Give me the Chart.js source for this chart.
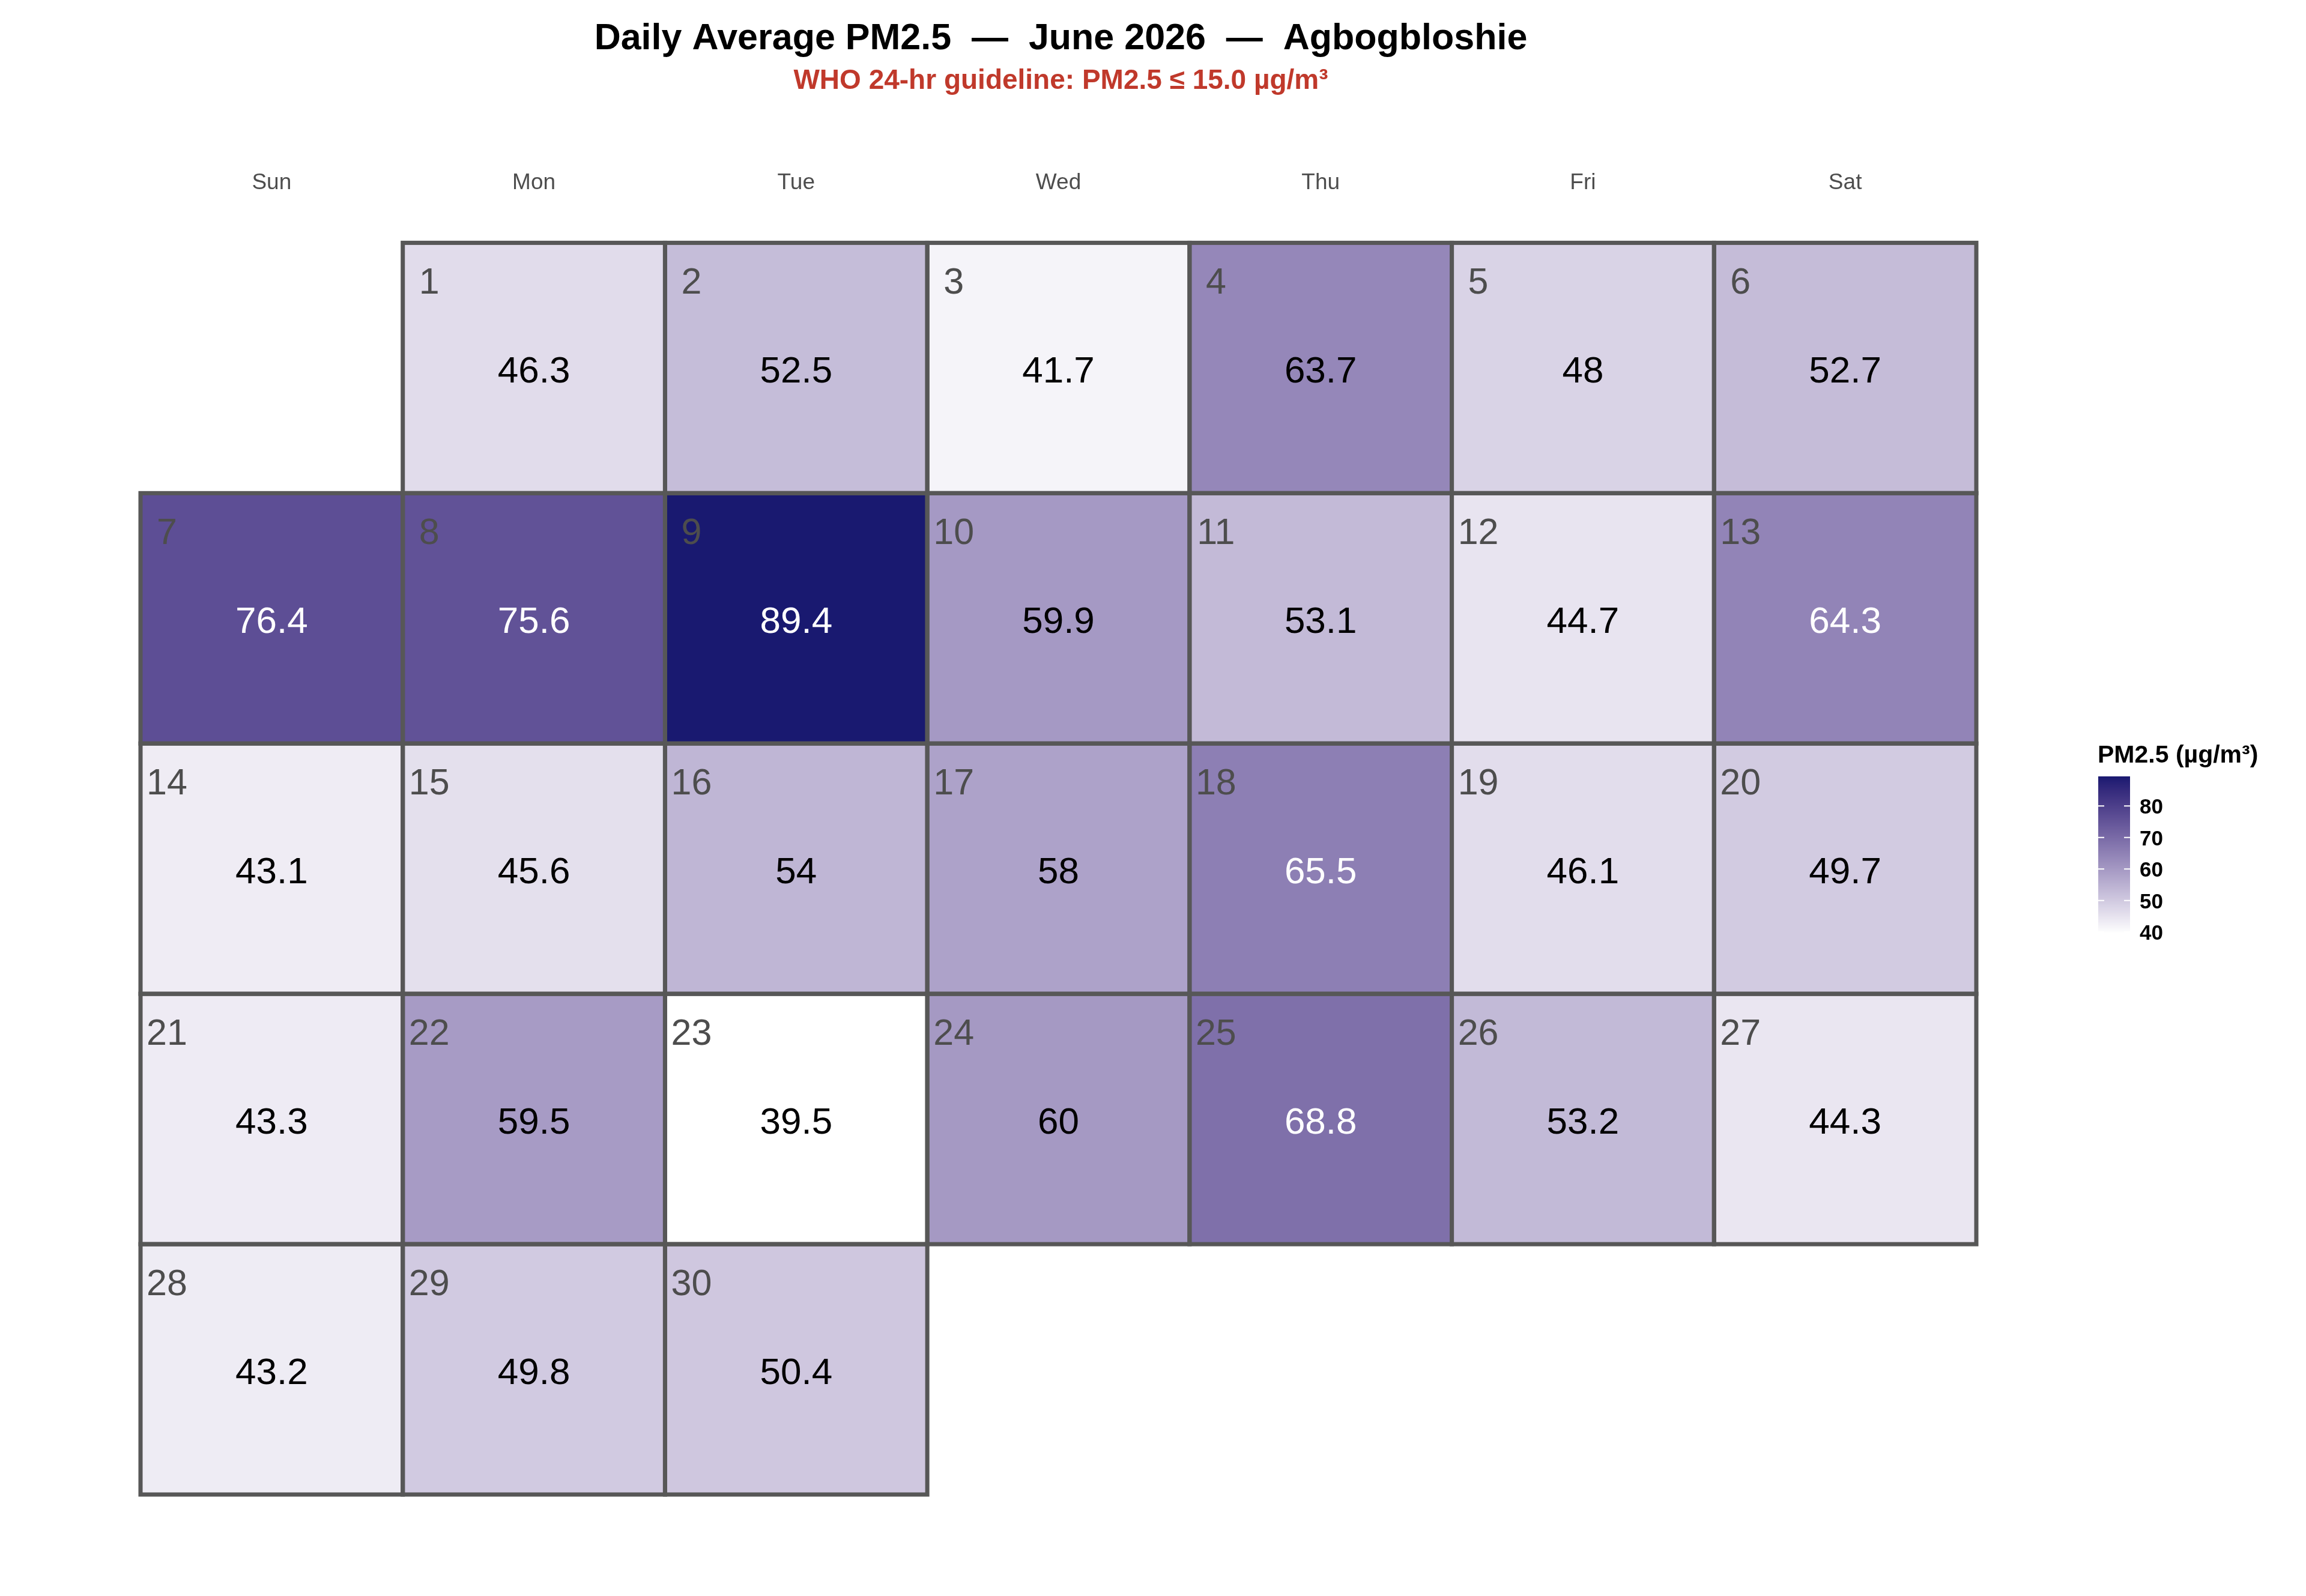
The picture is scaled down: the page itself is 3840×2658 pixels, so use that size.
<!DOCTYPE html>
<html><head><meta charset="utf-8">
<script src="https://cdn.jsdelivr.net/npm/chart.js@4.4.1/dist/chart.umd.min.js"></script>
<style>html,body{margin:0;padding:0;background:#fff;} canvas{display:block;}</style>
</head><body>
<canvas id="c" width="3840" height="2658" style="width:3840px;height:2658px"></canvas>
<script>
// ---------- data ----------
const weekdays = ['Sun', 'Mon', 'Tue', 'Wed', 'Thu', 'Fri', 'Sat'];
const year = 2026;
const monthIndex = 5; // June
const days = [1,2,3,4,5,6,7,8,9,10,11,12,13,14,15,16,17,18,19,20,21,22,23,24,25,26,27,28,29,30];
const pm25 = [46.3,52.5,41.7,63.7,48,52.7,76.4,75.6,89.4,59.9,53.1,44.7,64.3,43.1,45.6,54,58,65.5,46.1,49.7,43.3,59.5,39.5,60,68.8,53.2,44.3,43.2,49.8,50.4];
const legendTicks = [40, 50, 60, 70, 80];
const titleText = 'Daily Average PM2.5  \u2014  June 2026  \u2014  Agbogbloshie';
const subtitleText = 'WHO 24-hr guideline: PM2.5 \u2264 15.0 \u00b5g/m\u00b3';
const legendTitle = 'PM2.5 (\u00b5g/m\u00b3)';
const whiteTextAbove = 64;

// ---------- colour scale (Lab interpolation white -> midnightblue) ----------
const FONT = "'Liberation Sans', Arial, Helvetica, sans-serif";
const lowRGB = [255, 255, 255], highRGB = [25, 25, 112];
function toLin(c){ c/=255; return c<=0.04045 ? c/12.92 : Math.pow((c+0.055)/1.055, 2.4); }
function fromLin(c){ const v = c<=0.0031308 ? 12.92*c : 1.055*Math.pow(c,1/2.4)-0.055; return Math.max(0,Math.min(255,Math.round(v*255))); }
const WN = [0.95047, 1, 1.08883];
function f(t){ return t>0.008856 ? Math.cbrt(t) : 7.787*t + 16/116; }
function finv(t){ return t*t*t>0.008856 ? t*t*t : (t-16/116)/7.787; }
function rgb2lab(rgb){
  const [r,g,b] = rgb.map(toLin);
  const X=(0.4124*r+0.3576*g+0.1805*b)/WN[0], Y=(0.2126*r+0.7152*g+0.0722*b)/WN[1], Z=(0.0193*r+0.1192*g+0.9505*b)/WN[2];
  const fx=f(X), fy=f(Y), fz=f(Z);
  return [116*fy-16, 500*(fx-fy), 200*(fy-fz)];
}
function lab2rgb(lab){
  const fy=(lab[0]+16)/116, fx=fy+lab[1]/500, fz=fy-lab[2]/200;
  const X=finv(fx)*WN[0], Y=finv(fy)*WN[1], Z=finv(fz)*WN[2];
  const r= 3.2406*X-1.5372*Y-0.4986*Z, g=-0.9689*X+1.8758*Y+0.0415*Z, b=0.0557*X-0.2040*Y+1.0570*Z;
  return [fromLin(r), fromLin(g), fromLin(b)];
}
const labLow = rgb2lab(lowRGB), labHigh = rgb2lab(highRGB);
const vMin = Math.min(...pm25), vMax = Math.max(...pm25);
function colorFor(v){
  const t = Math.max(0, Math.min(1, (v - vMin) / (vMax - vMin)));
  const lab = labLow.map((c,i)=> c + (labHigh[i]-c)*t);
  const [r,g,b] = lab2rgb(lab);
  return `rgb(${r},${g},${b})`;
}

// ---------- calendar layout from dates ----------
const firstDow = new Date(year, monthIndex, 1).getDay();
const nWeeks = Math.ceil((firstDow + days.length) / 7);
const datasets = [];
for (let w = 0; w < nWeeks; w++) {
  const data = [], colors = [], dayLab = [], valLab = [];
  for (let col = 0; col < 7; col++) {
    const idx = days.findIndex(d => Math.floor((d - 1 + firstDow) / 7) === w && new Date(year, monthIndex, d).getDay() === col);
    if (idx >= 0) {
      data.push([w, w + 1]); colors.push(colorFor(pm25[idx])); dayLab.push(days[idx]); valLab.push(pm25[idx]);
    } else {
      data.push(null); colors.push('rgba(0,0,0,0)'); dayLab.push(null); valLab.push(null);
    }
  }
  datasets.push({ label: 'week ' + (w + 1), data, backgroundColor: colors, borderWidth: 0,
    barPercentage: 1, categoryPercentage: 1, grouped: false, dayLab, valLab });
}

// ---------- plugins ----------
const calendarPlugin = {
  id: 'calendarDecor',
  beforeDraw(chart){
    const ctx = chart.ctx; ctx.save(); ctx.fillStyle = '#ffffff'; ctx.fillRect(0,0,chart.width,chart.height); ctx.restore();
  },
  afterDatasetsDraw(chart){
    const ctx = chart.ctx;
    ctx.save();
    // tile outlines
    ctx.strokeStyle = '#575757'; ctx.lineWidth = 7; ctx.lineJoin = 'miter';
    chart.data.datasets.forEach((ds, di) => {
      chart.getDatasetMeta(di).data.forEach((el, i) => {
        if (ds.valLab[i] === null) return;
        const p = el.getProps(['x','y','base','width'], true);
        const left = p.x - p.width/2, top = Math.min(p.y, p.base), h = Math.abs(p.base - p.y);
        ctx.strokeRect(left, top, p.width, h);
      });
    });
    // texts
    chart.data.datasets.forEach((ds, di) => {
      chart.getDatasetMeta(di).data.forEach((el, i) => {
        if (ds.valLab[i] === null) return;
        const p = el.getProps(['x','y','base','width'], true);
        const left = p.x - p.width/2, top = Math.min(p.y, p.base), h = Math.abs(p.base - p.y);
        ctx.textAlign = 'center'; ctx.textBaseline = 'alphabetic';
        ctx.font = `62px ${FONT}`;
        ctx.fillStyle = ds.valLab[i] > whiteTextAbove ? '#ffffff' : '#000000';
        ctx.fillText(String(ds.valLab[i]), p.x, top + h/2 + 24);
        ctx.font = `61px ${FONT}`;
        ctx.fillStyle = '#4d4d4d';
        ctx.fillText(String(ds.dayLab[i]), left + 44, top + 85);
      });
    });
    ctx.restore();
  },
  afterDraw(chart){
    const ctx = chart.ctx, ca = chart.chartArea;
    ctx.save();
    const cx = (ca.left + ca.right) / 2 + 4;
    ctx.textAlign = 'center'; ctx.textBaseline = 'alphabetic';
    ctx.fillStyle = '#000000'; ctx.font = `bold 61px ${FONT}`;
    ctx.fillText(titleText, cx, 82);
    ctx.fillStyle = '#c0392b'; ctx.font = `bold 46px ${FONT}`;
    ctx.fillText(subtitleText, cx, 148);
    // colour bar legend
    const bx = 3494, bw = 53, yTop = 1293, yBot = 1555;
    const toY = v => yBot - (v - vMin) / (vMax - vMin) * (yBot - yTop);
    for (let y = yTop; y < yBot; y++) {
      const v = vMin + (yBot - y - 0.5) / (yBot - yTop) * (vMax - vMin);
      ctx.fillStyle = colorFor(v);
      ctx.fillRect(bx, y, bw, 1.2);
    }
    ctx.strokeStyle = '#ffffff'; ctx.lineWidth = 2;
    ctx.textAlign = 'left'; ctx.textBaseline = 'alphabetic';
    ctx.font = `bold 35px ${FONT}`;
    legendTicks.forEach(t => {
      const y = toY(t);
      ctx.beginPath();
      ctx.moveTo(bx, y); ctx.lineTo(bx + 10, y);
      ctx.moveTo(bx + bw - 10, y); ctx.lineTo(bx + bw, y);
      ctx.stroke();
      ctx.fillStyle = '#000000';
      ctx.fillText(String(t), 3563, y + 13);
    });
    ctx.font = `bold 41px ${FONT}`; ctx.fillStyle = '#000000';
    ctx.fillText(legendTitle, 3493, 1270);
    ctx.restore();
  }
};

new Chart(document.getElementById('c'), {
  type: 'bar',
  data: { labels: weekdays, datasets },
  options: {
    responsive: false, animation: false, devicePixelRatio: 1,
    layout: { padding: { left: 234, right: 549, top: 206, bottom: 169 } },
    plugins: { legend: { display: false }, tooltip: { enabled: false }, title: { display: false } },
    scales: {
      x: { type: 'category', position: 'top', offset: true,
           grid: { display: false, drawTicks: false }, border: { display: false },
           ticks: { color: '#4d4d4d', font: { family: FONT, size: 37 }, padding: 77 } },
      y: { type: 'linear', min: 0, max: nWeeks, reverse: true, display: false }
    }
  },
  plugins: [calendarPlugin]
});
</script>
</body></html>
